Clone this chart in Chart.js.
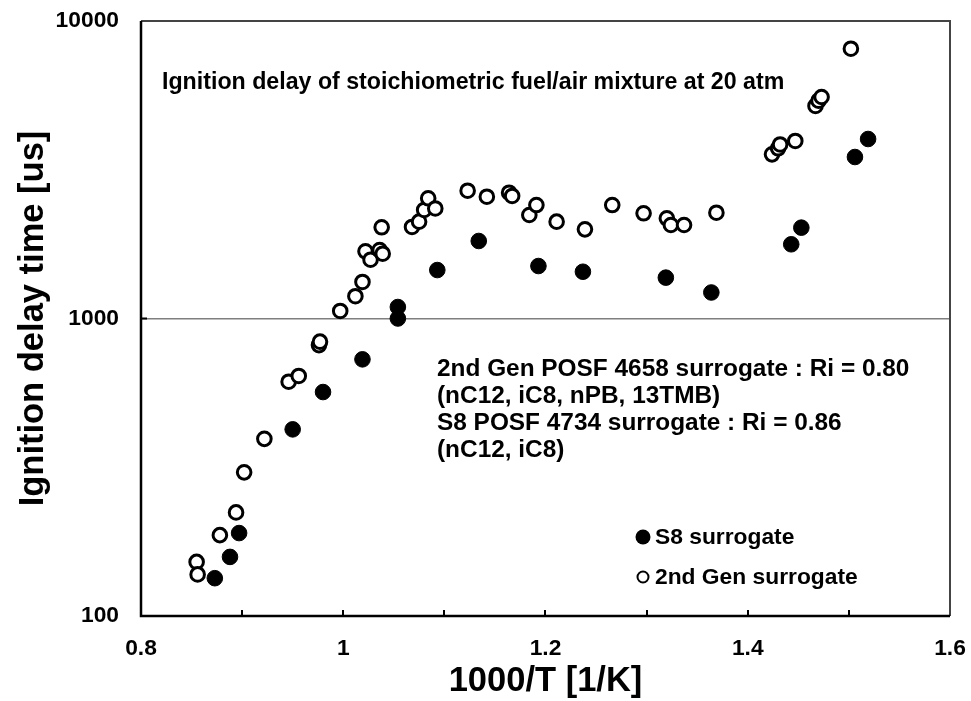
<!DOCTYPE html>
<html>
<head>
<meta charset="utf-8">
<script src="https://cdn.jsdelivr.net/npm/chart.js@4.4.1/dist/chart.umd.min.js"></script>
<style>
html, body { margin: 0; padding: 0; background: #fff; }
#chartgraph { display: block; }
</style>
</head>
<body>
<canvas id="chartgraph" width="971" height="701"></canvas>
<script>
// 1000/T [1/K] and ignition delay [us]
var genX = [0.855, 0.856, 0.878, 0.894, 0.902, 0.922, 0.946, 0.956, 0.976, 0.977,
            0.997, 1.012, 1.019, 1.022, 1.027, 1.036, 1.039, 1.038, 1.068, 1.075,
            1.080, 1.084, 1.091, 1.123, 1.142, 1.164, 1.167, 1.184, 1.191, 1.211,
            1.239, 1.266, 1.297, 1.320, 1.324, 1.337, 1.369, 1.424, 1.430, 1.432,
            1.447, 1.467, 1.470, 1.473, 1.502];
var genY = [152, 138, 187, 223, 304, 394, 613, 641, 814, 836,
            1060, 1188, 1327, 1682, 1576, 1699, 1651, 2026, 2031, 2116,
            2316, 2535, 2343, 2689, 2567, 2648, 2581, 2228, 2407, 2116,
            1994, 2407, 2258, 2172, 2062, 2062, 2268, 3563, 3734, 3845,
            3951, 5180, 5397, 5553, 8070];

var s8X = [0.873, 0.888, 0.897, 0.950, 0.980, 1.019, 1.054, 1.054, 1.093, 1.134,
           1.193, 1.237, 1.319, 1.364, 1.443, 1.453, 1.506, 1.519];
var s8Y = [134, 158, 190, 424, 566, 729, 1000, 1093, 1455, 1822,
           1501, 1436, 1372, 1223, 1776, 2020, 3490, 4012];

var yTicks = [100, 1000, 10000];
var xMarks = [0.9, 1.0, 1.1, 1.2, 1.3, 1.4, 1.5];

var titleText = 'Ignition delay of stoichiometric fuel/air mixture at 20 atm';
var noteLines = ['2nd Gen POSF 4658 surrogate : Ri = 0.80',
                 '(nC12, iC8, nPB, 13TMB)',
                 'S8 POSF 4734 surrogate : Ri = 0.86',
                 '(nC12, iC8)'];
var legendLabels = ['S8 surrogate', '2nd Gen surrogate'];

var FONT = '"Liberation Sans", Arial, sans-serif';

function toPoints(xs, ys) {
  var out = [];
  for (var i = 0; i < xs.length; i++) out.push({x: xs[i], y: ys[i]});
  return out;
}

// keep the plot box fixed, no extra room for overflowing labels
function noPad(s) {
  s.paddingTop = 0;
  s.paddingBottom = 0;
  s.paddingLeft = 0;
  s.paddingRight = 0;
}

// frame, inside tick marks, texts and legend
var decor = {
  id: 'decor',
  afterDraw: function(chart) {
    var ctx = chart.ctx;
    var a = chart.chartArea;
    var xs = chart.scales.x, ys = chart.scales.y;
    ctx.save();

    // inside ticks
    ctx.strokeStyle = '#000';
    ctx.lineWidth = 2;
    xMarks.forEach(function(v) {
      var px = Math.round(xs.getPixelForValue(v));
      ctx.beginPath();
      ctx.moveTo(px, a.bottom);
      ctx.lineTo(px, a.bottom - 6);
      ctx.stroke();
    });
    var py = ys.getPixelForValue(1000);
    ctx.beginPath();
    ctx.moveTo(a.left, py);
    ctx.lineTo(a.left + 6, py);
    ctx.stroke();

    // frame
    ctx.lineWidth = 2;
    ctx.strokeStyle = '#444';
    ctx.beginPath();
    ctx.moveTo(a.left, a.top);
    ctx.lineTo(a.right, a.top);
    ctx.lineTo(a.right, a.bottom);
    ctx.stroke();
    ctx.lineWidth = 2.5;
    ctx.strokeStyle = '#000';
    ctx.beginPath();
    ctx.moveTo(a.left, a.top);
    ctx.lineTo(a.left, a.bottom);
    ctx.lineTo(a.right, a.bottom);
    ctx.stroke();

    // texts
    ctx.fillStyle = '#000';
    ctx.textBaseline = 'middle';
    ctx.textAlign = 'left';
    ctx.font = 'bold 23.2px ' + FONT;
    ctx.fillText(titleText, 162, 83);

    ctx.font = 'bold 24.4px ' + FONT;
    noteLines.forEach(function(t, i) {
      ctx.fillText(t, 437, 369 + i * 27.2);
    });

    // legend
    ctx.font = 'bold 22.8px ' + FONT;
    ctx.beginPath();
    ctx.arc(643, 537, 7.5, 0, Math.PI * 2);
    ctx.fill();
    ctx.fillText(legendLabels[0], 655, 538);
    ctx.beginPath();
    ctx.arc(643, 577, 5.5, 0, Math.PI * 2);
    ctx.lineWidth = 2;
    ctx.stroke();
    ctx.fillText(legendLabels[1], 655, 578);

    ctx.restore();
  }
};

var ctx = document.getElementById('chartgraph').getContext('2d');

var chart = new Chart(ctx, {
  type: 'scatter',
  data: {
    datasets: [{
      label: legendLabels[1],
      data: toPoints(genX, genY),
      pointRadius: 6.8,
      pointBorderWidth: 3,
      pointBackgroundColor: '#fff',
      pointBorderColor: '#000'
    }, {
      label: legendLabels[0],
      data: toPoints(s8X, s8Y),
      pointRadius: 7.8,
      pointBorderWidth: 1,
      pointBackgroundColor: '#000',
      pointBorderColor: '#000'
    }]
  },
  options: {
    responsive: false,
    animation: false,
    devicePixelRatio: 1,
    layout: { padding: { top: 21, right: 21, left: 0, bottom: 0 } },
    plugins: {
      legend: { display: false },
      tooltip: { enabled: false }
    },
    scales: {
      x: {
        type: 'linear',
        min: 0.8,
        max: 1.6,
        grid: { display: false, drawTicks: false },
        border: { display: false },
        ticks: {
          stepSize: 0.2,
          padding: 19,
          color: '#000',
          font: { family: FONT, size: 22.8, weight: 'bold' },
          callback: function(v) { return String(+v.toFixed(1)); }
        },
        title: {
          display: true,
          text: '1000/T [1/K]',
          color: '#000',
          font: { family: FONT, size: 34.5, weight: 'bold', lineHeight: 1 },
          padding: { top: 0, bottom: 2 }
        },
        afterFit: function(s) { s.height = 85; noPad(s); }
      },
      y: {
        type: 'logarithmic',
        min: 100,
        max: 10000,
        afterBuildTicks: function(s) {
          s.ticks = yTicks.map(function(v) { return {value: v}; });
        },
        grid: {
          drawTicks: false,
          lineWidth: 1.5,
          color: function(c) {
            return c.tick && c.tick.value === 1000 ? '#7f7f7f' : 'rgba(0,0,0,0)';
          }
        },
        border: { display: false },
        ticks: {
          padding: 22,
          color: '#000',
          font: { family: FONT, size: 22.8, weight: 'bold' },
          callback: function(v) { return String(v); }
        },
        title: {
          display: true,
          text: 'Ignition delay time [us]',
          color: '#000',
          font: { family: FONT, size: 34.5, weight: 'bold', lineHeight: 1.2 },
          padding: { top: 13, bottom: 0 }
        },
        afterFit: function(s) { s.width = 141; noPad(s); }
      }
    }
  },
  plugins: [decor]
});
</script>
</body>
</html>
